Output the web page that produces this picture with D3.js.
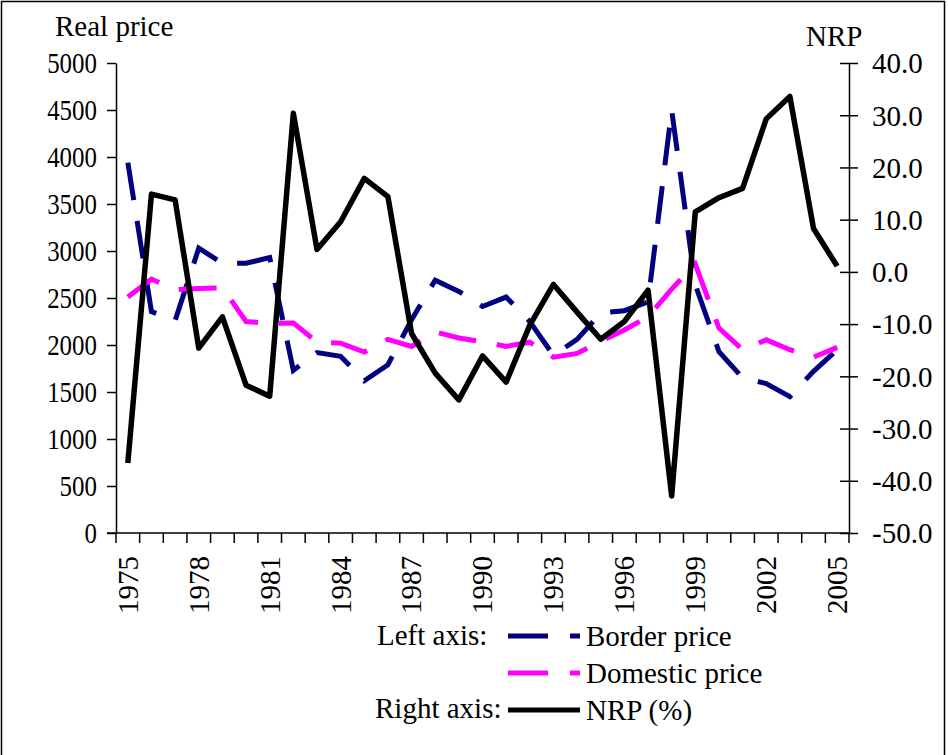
<!DOCTYPE html>
<html>
<head>
<meta charset="utf-8">
<script src="https://cdn.jsdelivr.net/npm/d3@7"></script>
<style>
  body { margin: 0; background: #fff; }
  text { font-family: "Liberation Serif", "Times New Roman", serif; }
</style>
</head>
<body>
<svg id="chart"></svg>
<script>
// Data
const years = d3.range(1975, 2006);
const borderPrice = [3940, 2355, 2260, 3030, 2870, 2870, 2930, 1730, 1920, 1880,
  1620, 1790, 2270, 2690, 2570, 2410, 2510, 2250, 1890, 2060,
  2340, 2365, 2460, 4500, 2640, 1930, 1650, 1590, 1450, 1720, 1950];
const domesticPrice = [2510, 2700, 2590, 2600, 2610, 2250, 2230, 2235, 2030, 2020,
  1925, 2060, 1985, 2140, 2075, 2035, 1985, 2030, 1870, 1910,
  2040, 2160, 2300, 2595, 2860, 2180, 1950, 2055, 1950, 1870, 1975];
const nrp = [-36.6, 14.9, 13.8, -14.6, -8.6, -21.7, -23.8, 30.4, 4.3, 9.6,
  17.9, 14.4, -11.8, -19.4, -24.5, -16.1, -21.1, -10.2, -2.4, -7.7,
  -12.9, -9.5, -3.5, -42.9, 11.5, 14.2, 16.0, 29.3, 33.6, 8.3, 1.1];
const labelYears = d3.range(1975, 2006, 3);
const leftTicks = d3.range(0, 5001, 500);
const rightTicks = d3.range(-50, 41, 10);

const W = 948, H = 755;
const plot = { left: 116, right: 849, top: 63, bottom: 533 };

const svg = d3.select("#chart").attr("width", W).attr("height", H);

// outer frame
svg.append("rect")
  .attr("x", 1.5).attr("y", 1.5)
  .attr("width", 943).attr("height", 770)
  .attr("fill", "none").attr("stroke", "#000").attr("stroke-width", 1.5);

const x = d3.scaleBand().domain(years).range([plot.left, plot.right]).padding(0);
const cx = d => x(d) + x.bandwidth() / 2;
const yLeft = d3.scaleLinear().domain([0, 5000]).range([plot.bottom, plot.top]);
const yRight = d3.scaleLinear().domain([-50, 40]).range([plot.bottom, plot.top]);

const fontSize = 29;

// Left axis
const leftAxis = svg.append("g")
  .attr("transform", `translate(${plot.left},0)`)
  .call(d3.axisLeft(yLeft).tickValues(leftTicks).tickSize(9).tickSizeOuter(0)
    .tickFormat(d => String(d)));
leftAxis.selectAll("path, line").attr("stroke", "#000").attr("stroke-width", 1.5);
leftAxis.selectAll("text")
  .attr("font-size", fontSize)
  .attr("fill", "#000")
  .attr("transform", "scale(0.86,1)")
  .attr("x", -19 / 0.86)
  .attr("dy", "0.34em");

// Right axis (ticks cross the line)
const rightAxis = svg.append("g")
  .attr("transform", `translate(${plot.right},0)`)
  .call(d3.axisRight(yRight).tickValues(rightTicks).tickSize(9).tickSizeOuter(0)
    .tickFormat(d => d.toFixed(1)));
rightAxis.selectAll("path, line").attr("stroke", "#000").attr("stroke-width", 1.5);
rightAxis.selectAll(".tick line").attr("x1", -9);
rightAxis.selectAll("text")
  .attr("font-size", fontSize)
  .attr("fill", "#000")
  .attr("x", 23)
  .attr("dy", "0.34em");

// Bottom axis line and category tick marks
const xAxis = svg.append("g");
xAxis.append("line")
  .attr("x1", plot.left - 9).attr("x2", plot.right)
  .attr("y1", plot.bottom).attr("y2", plot.bottom)
  .attr("stroke", "#000").attr("stroke-width", 1.5);
xAxis.selectAll(".xtick")
  .data(years.map(d => x(d)).concat([plot.right]))
  .enter().append("line")
  .attr("x1", d => d).attr("x2", d => d)
  .attr("y1", plot.bottom).attr("y2", plot.bottom + 10)
  .attr("stroke", "#000").attr("stroke-width", 1.5);
xAxis.selectAll(".xlabel")
  .data(labelYears)
  .enter().append("text")
  .attr("transform", d => `translate(${cx(d)},${plot.bottom + 23}) rotate(-90)`)
  .attr("text-anchor", "end")
  .attr("dy", "0.34em")
  .attr("font-size", fontSize)
  .text(d => d);

// Axis titles
svg.append("text").attr("x", 55).attr("y", 36).attr("font-size", fontSize).text("Real price");
svg.append("text").attr("x", 806).attr("y", 46).attr("font-size", fontSize).text("NRP");

// Lines
const lineLeft = d3.line().x((d, i) => cx(years[i])).y(d => yLeft(d));
const lineRight = d3.line().x((d, i) => cx(years[i])).y(d => yRight(d));

svg.append("path")
  .datum(borderPrice)
  .attr("d", lineLeft)
  .attr("fill", "none")
  .attr("stroke", "#000080")
  .attr("stroke-width", 5)
  .attr("stroke-dasharray", "38,21");

svg.append("path")
  .datum(domesticPrice)
  .attr("d", lineLeft)
  .attr("fill", "none")
  .attr("stroke", "#ff00ff")
  .attr("stroke-width", 5)
  .attr("stroke-dasharray", "38,21");

svg.append("path")
  .datum(nrp)
  .attr("d", lineRight)
  .attr("fill", "none")
  .attr("stroke", "#000")
  .attr("stroke-width", 5.5)
  .attr("stroke-linejoin", "round");

// Legend
const legend = svg.append("g");
legend.append("text").attr("x", 377).attr("y", 645).attr("font-size", fontSize).text("Left axis:");
legend.append("text").attr("x", 375).attr("y", 718).attr("font-size", fontSize).text("Right axis:");

const legendItems = [
  { name: "Border price", color: "#000080", dash: "40,22", y: 636 },
  { name: "Domestic price", color: "#ff00ff", dash: "40,22", y: 673 },
  { name: "NRP (%)", color: "#000", dash: null, y: 710 }
];
legendItems.forEach(d => {
  legend.append("line")
    .attr("x1", 508).attr("x2", 580)
    .attr("y1", d.y).attr("y2", d.y)
    .attr("stroke", d.color)
    .attr("stroke-width", 5)
    .attr("stroke-dasharray", d.dash);
  legend.append("text")
    .attr("x", 586).attr("y", d.y + 10)
    .attr("font-size", fontSize)
    .text(d.name);
});
</script>
</body>
</html>
